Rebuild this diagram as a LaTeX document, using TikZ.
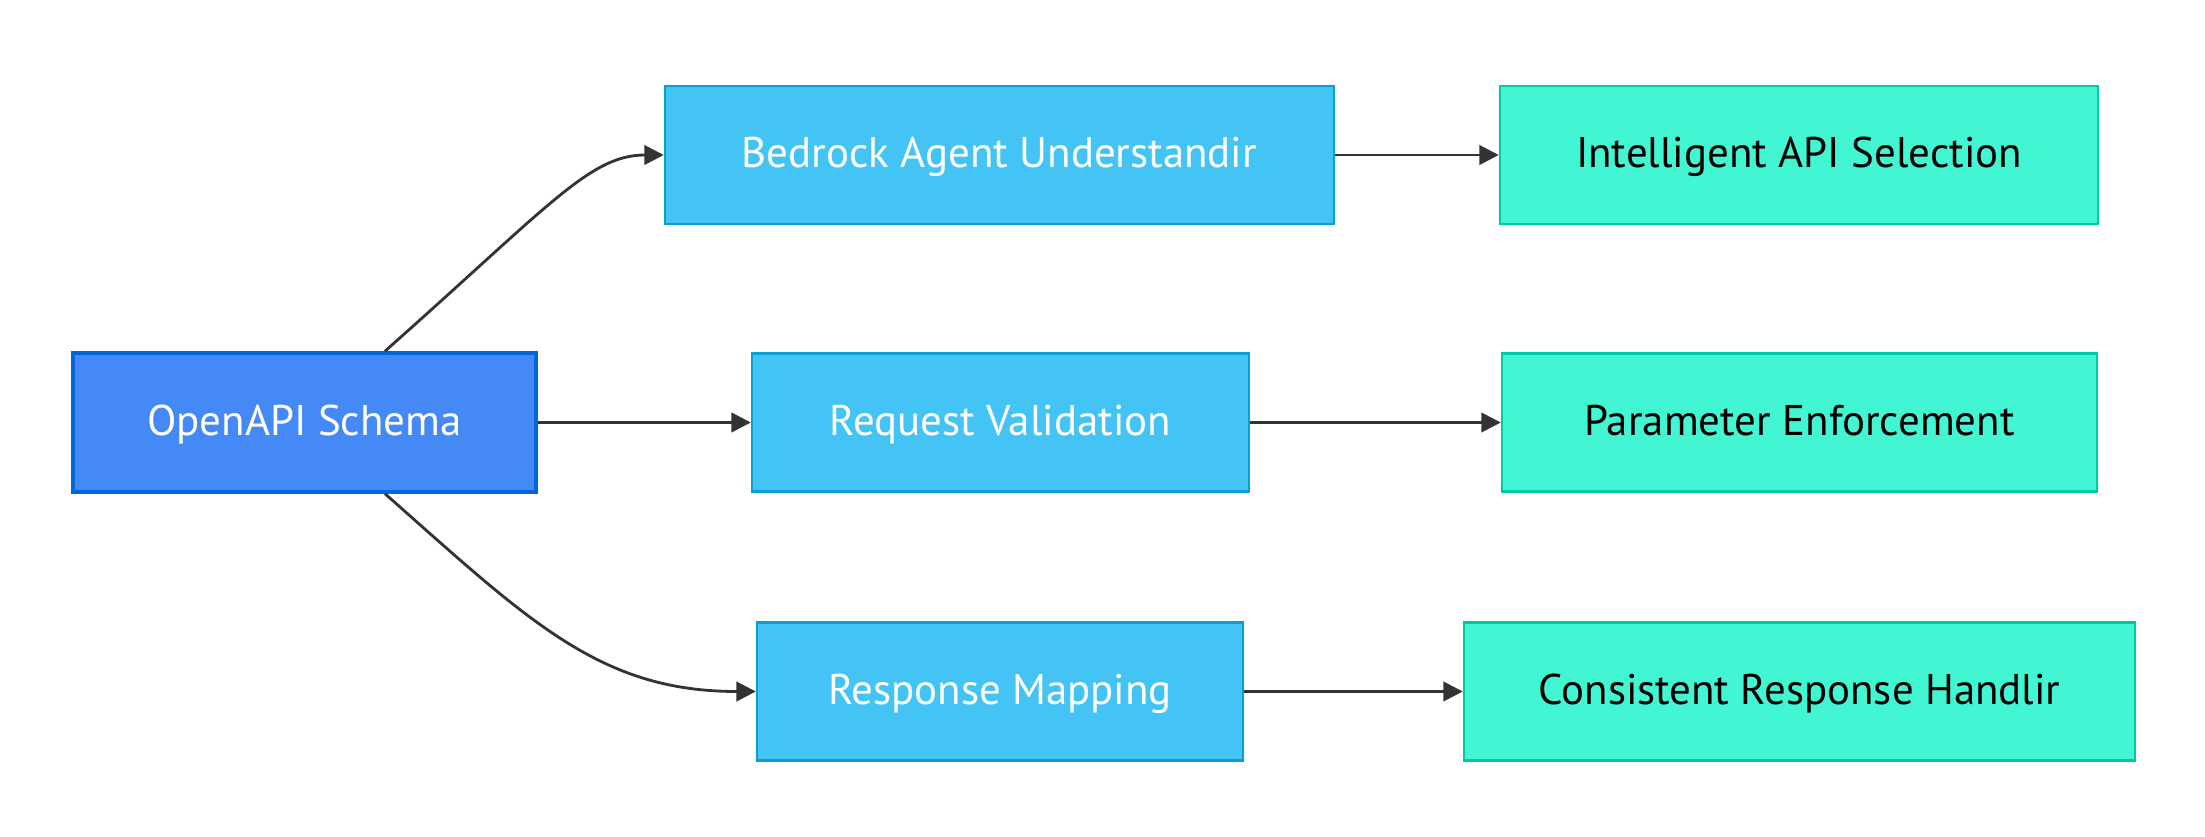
\documentclass[tikz,border=0pt]{standalone}
\usepackage{fontspec}
\setmainfont{PT Sans}
\usetikzlibrary{arrows.meta}
\definecolor{schemaFill}{HTML}{4589F7}
\definecolor{schemaLine}{HTML}{0366D6}
\definecolor{stepFill}{HTML}{43C4F5}
\definecolor{stepLine}{HTML}{0B9FD3}
\definecolor{goalFill}{HTML}{43F6D3}
\definecolor{goalLine}{HTML}{00C9A7}
\definecolor{linkGray}{HTML}{333333}
\begin{document}
\begin{tikzpicture}[x=0.01cm,y=-0.01cm]
% Set styles for the three kinds of boxes
\tikzstyle{Schema}=[rectangle,draw=schemaLine,line width=1pt,fill=schemaFill,text=white,font=\fontsize{12.2}{15}\selectfont,text height=0.72em,text depth=0pt,minimum height=1.39cm]
\tikzstyle{Stage}=[rectangle,draw=stepLine,line width=0.6pt,fill=stepFill,text=white,font=\fontsize{12.2}{15}\selectfont,text height=0.72em,text depth=0pt,minimum height=1.38cm]
\tikzstyle{Goal}=[rectangle,draw=goalLine,line width=0.6pt,fill=goalFill,text=black,font=\fontsize{12.2}{15}\selectfont,text height=0.72em,text depth=0pt,minimum height=1.38cm]
\tikzstyle{link}=[line width=0.8pt,draw=linkGray,-{Triangle[length=5.5pt,width=5.5pt]}]
\useasboundingbox (0,0) rectangle (2205,837);
% Nodes
\foreach [count=\i] \x/\y/\w/\t/\n in {
    304.5/422.5/4.63/OpenAPI Schema/Schema,
    999.5/155/6.69/Bedrock Agent Understandir/Stage,
    1000.5/422.5/4.97/Request Validation/Stage,
    1000/691.5/4.86/Response Mapping/Stage,
    1799/155/5.98/Intelligent API Selection/Goal,
    1799.5/422.5/5.95/Parameter Enforcement/Goal,
    1799.5/691.5/6.71/Consistent Response Handlir/Goal}
  \node[\n,minimum width=\w cm] at (\x,\y) (v\i) {\t};
% Edges
\draw[link] (v1) .. controls (550,205) and (590,155) .. (v2);
\draw[link] (v1) .. controls (530,622) and (600,691.5) .. (v4);
\foreach \i/\j in {1/3, 2/5, 3/6, 4/7}
  \draw[link] (v\i) -- (v\j);
\end{tikzpicture}
\end{document}
